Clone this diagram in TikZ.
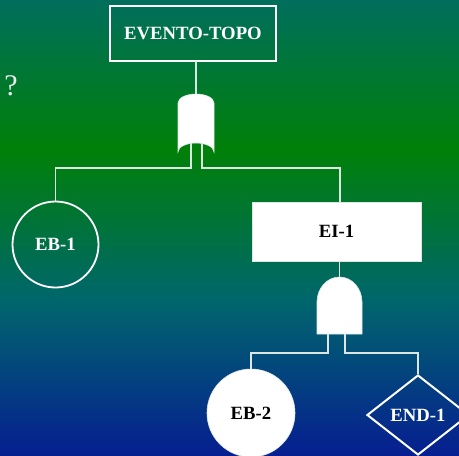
\documentclass[tikz,border=0pt]{standalone}
\usepackage{fontspec}
\setmainfont{Liberation Serif}
\usetikzlibrary{%
	calc,%
	shapes.geometric
}
\definecolor{sea-green}{RGB}{0,110,92}
\definecolor{fern-green}{RGB}{0,128,8}
\definecolor{dark-teal}{RGB}{0,102,108}
\definecolor{deep-blue}{RGB}{6,30,145}
\definecolor{wire-grey}{RGB}{222,230,226}
\pgfdeclareverticalshading{fault-bg}{100bp}{color(0bp)=(deep-blue); color(25bp)=(deep-blue); color(42.1bp)=(dark-teal); color(58.6bp)=(fern-green); color(75bp)=(sea-green); color(100bp)=(sea-green)}

\begin{document}
\begin{tikzpicture}[x=1pt,y=-1pt,
		font=\fontsize{18.7}{20}\selectfont\bfseries,
		wire/.style={wire-grey,line width=1.3pt},
		gatebox/.style={inner sep=0pt,outer sep=0pt,minimum width=#1},
		eventbox/.style={rectangle,inner sep=0pt,outer sep=0pt}
	]
	% Background
	\useasboundingbox (0,0) rectangle (459,456);
	\shade[shading=fault-bg] (0,0) rectangle (459,456);
	\node[font=\fontsize{30}{32}\selectfont,text=white!85!gray] (query) at (11,86) {?};
	
	% Events
	\node[eventbox,draw=white,line width=2pt,text=white,minimum width=166pt,minimum height=55pt] (top) at (193,33.5) {EVENTO-TOPO};
	\node[circle,draw=white,line width=1.8pt,text=white,minimum size=86pt,inner sep=0pt] (eb1) at (55.5,244.5) {EB-1};
	\node[eventbox,fill=white,draw=wire-grey,line width=0.8pt,text=black,minimum width=169pt,minimum height=59pt] (ei1) at (336.5,231.5) {EI-1};
	\node[circle,fill=white,draw=wire-grey,line width=0.6pt,text=black,minimum size=88pt,inner sep=0pt] (eb2) at (251,413) {EB-2};
	\node[diamond,draw=white,line width=2pt,text=white,aspect=1.275,minimum width=102pt,minimum height=80pt,inner sep=0pt] (end1) at (418,415) {END-1};
	
	% Gates
	\node[gatebox=36pt,minimum height=58pt] (or1) at (196,123) {};
	\node[gatebox=45pt,minimum height=57pt] (and1) at (339.5,305.5) {};
	
	% Wires
	\draw[wire] (top.south -| or1.north) -- (or1.north);
	\draw[wire] ([xshift=-5pt]or1.center) -- ++(0,45) -| (eb1);
	\draw[wire] ([xshift=6pt]or1.center) -- ++(0,45) -| ([xshift=3.5pt]ei1.north);
	\draw[wire] (ei1.south -| and1.north) -- (and1.north);
	\draw[wire] ([xshift=-11.5pt]and1.center) -- ++(0,47.5) -| (eb2);
	\draw[wire] ([xshift=5.5pt]and1.center) -- ++(0,47.5) -| (end1);
	
	% OR gate
	\filldraw[white,draw=wire-grey,line width=0.6pt] (or1.south west) -- ++(0,-49)
		.. controls +(0,-5) and +(-10,0) .. ++(18,-9)
		.. controls +(10,0) and +(0,-5) .. ++(18,9) -- ++(0,49)
		.. controls +(0,-5) and +(10,0) .. ++(-18,-9)
		.. controls +(-10,0) and +(0,-5) .. ++(-18,9) -- cycle;
	% AND gate
	\filldraw[white,draw=wire-grey,line width=0.6pt] (and1.south west) -- ++(0,-32)
		.. controls +(0,-13.8) and +(-12.4,0) .. ++(22.5,-25)
		.. controls +(12.4,0) and +(0,-13.8) .. ++(22.5,25) -- ++(0,32) -- cycle;
\end{tikzpicture}
\end{document}
